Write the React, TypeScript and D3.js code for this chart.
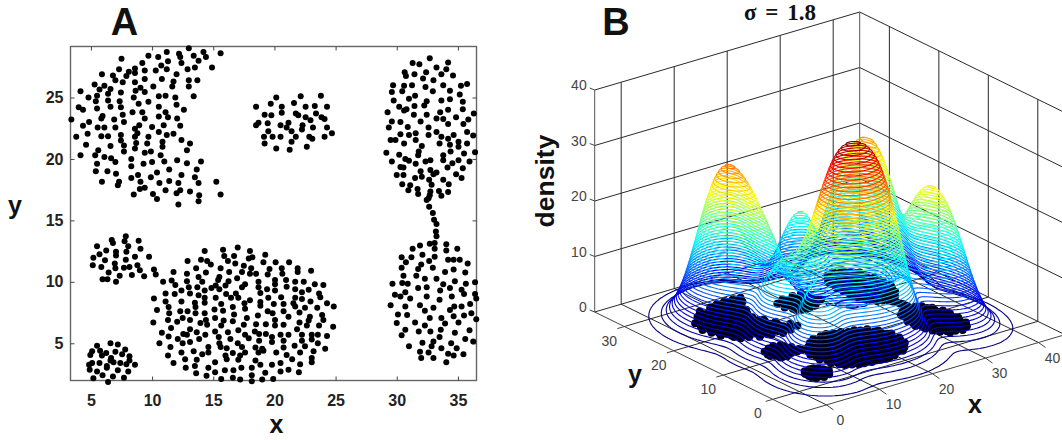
import React, { useEffect, useRef } from 'react';
import * as d3 from 'd3';

const upperLeft = [[13,29],[14.2,28.7],[15.6,28.6],[12.2,28.55],[11.2,28.7],[9.7,28.4],[10.5,28.3],[12.3,28.3],[13.4,28.4],[7.5,28.15],[14.4,28.3],[13.8,28],[11.3,27.95],[12.4,27.8],[9.2,27.8],[10.75,27.6],[14.9,27.45],[13.5,27.45],[12.9,27.3],[8.6,27.35],[7.3,27.3],[11.2,27.3],[10.3,27.2],[9.4,27.2],[8.1,27.1],[8.6,27],[5.9,26.9],[6.8,26.8],[7.9,26.75],[12,26.9],[7,26.4],[7.6,26.25],[9.4,26.5],[10.8,26.5],[13,26.4],[13.7,26.4],[11.75,26.3],[8.6,26.25],[11.65,25.9],[5.3,26.05],[6.1,25.95],[13,25.9],[10.1,25.9],[5.7,25.65],[6.6,25.7],[9.05,25.8],[8.65,25.55],[6.4,25.3],[4.15,25.5],[7.45,25.4],[9.4,25.45],[4.8,25],[5.5,25.15],[13.4,25.1],[10.55,25.1],[11.1,25.15],[11.9,25],[8.5,25],[5.4,24.7],[6.4,24.75],[7.35,24.7],[9.7,24.65],[8.9,24.5],[12,24.4],[6.6,24.25],[10.55,24.25],[4,24.2],[4.35,24],[5.5,24.1],[7.45,24.2],[12.6,24],[7.6,23.6],[8.4,23.8],[9.2,23.8],[11.1,23.8],[10.55,23.45],[11.3,23.4],[9.4,23.3],[5.95,23.5],[5.85,23.3],[12.05,23.3],[3.4,23.2],[6.9,23.2],[4.85,23],[7.7,23],[4.35,22.7],[8.95,22.75],[10,22.6],[10.95,22.75],[12.3,22.7],[5.55,22.55],[6.1,22.55],[7,22.55],[8.6,22.45],[10.55,22.2],[4.73,22.05],[8.8,22.1],[3.8,21.8],[5.85,21.85],[6.4,21.85],[7.45,21.95],[8.6,21.8],[9.7,21.8],[11.75,22.05],[11.2,21.95],[7.45,21.5],[12.4,21.55],[7.7,21.1],[10.85,21.4],[9.6,21.25],[8.7,21.3],[4.6,21.15],[6.6,21.05],[13.1,21.25],[8.6,20.85],[10.85,21],[12.85,20.7],[5.6,20.7],[7.7,20.6],[9.4,20.5],[9.9,20.6],[4.15,20.3],[5.35,20.3],[10.7,20.3],[6.1,20.15],[6.65,20.05],[8.3,20],[14,19.8],[7,19.75],[10,19.75],[11,19.8],[12.05,19.9],[12.85,19.65],[5.5,19.6],[9.3,19.6],[8.3,19.4],[13.65,19.15],[5.4,19],[6.35,19],[11.4,19.15],[7.05,18.8],[10.4,18.9],[8.85,18.7],[12.4,18.7],[8.3,18.45],[9.9,18.5],[13.5,18.5],[5.9,18.15],[7.3,18.15],[9.05,18.15],[10.6,18.05],[11.4,18.2],[12.15,18.05],[13.8,18.05],[15.25,18.15],[7.2,17.85],[9,17.55],[9.4,17.65],[11.1,17.45],[13.1,17.35],[12.3,17.45],[12,17.2],[8.5,17.1],[10.07,17.15],[13.85,17.05],[15.6,17.1],[10.4,16.75],[13.8,16.55],[12.15,16.3]];

const upperMiddle = [[23.8,25.15],[22.15,25.1],[20.15,25],[21.6,24.55],[19.7,24.5],[18.5,24.25],[20.6,24.25],[22.55,24.25],[23.3,24.3],[24.3,24.25],[20.6,23.75],[21.75,23.7],[19.2,23.6],[19.75,23.55],[21.95,23.55],[23.4,23.7],[22.55,23.4],[23.85,23.4],[24.1,23.25],[22.95,23.15],[21.15,22.95],[18.7,22.95],[18.5,22.75],[19.45,22.9],[20.5,22.75],[22.3,22.75],[21,22.55],[23.15,22.55],[24.3,22.55],[21.4,22.25],[22.25,22.4],[19.5,22.25],[24.7,22.1],[19.15,21.8],[19.85,21.8],[20.5,21.8],[21.75,21.8],[22.85,21.8],[24.1,21.8],[23.1,21.65],[21.4,21.4],[19.2,21.25],[20.15,20.85],[21.25,20.75],[22.65,21]];

const upperRight = [[32.7,28.2],[31.3,27.8],[31.85,27.7],[34.2,27.85],[33.25,27.45],[34.05,27.3],[30.65,27.05],[30.75,26.75],[31.45,26.9],[32.4,27.05],[33.65,26.9],[34.6,26.8],[32.15,26.55],[33,26.4],[29.7,26],[30.6,25.95],[31.25,26],[32.35,25.85],[33.8,26],[35.25,25.95],[35.75,26.1],[29.6,25.45],[30.45,25.5],[32.95,25.5],[34.35,25.55],[35.15,25.25],[31.5,25.15],[31,24.9],[29.75,24.75],[33.65,24.75],[34.35,24.85],[35.4,24.65],[32.45,24.7],[32.25,24.35],[30.2,24.25],[31.45,24.3],[30.8,24.05],[30.6,23.95],[35.4,24.05],[29.25,23.8],[34.2,24],[33.55,23.8],[36.3,23.7],[31.4,23.6],[32.45,23.6],[33.25,23.3],[33.8,23.25],[34.85,23.4],[35.85,23.2],[35.45,22.85],[29.6,23.05],[30.3,23],[31.95,23.05],[34.2,22.85],[29.35,22.55],[30.9,22.6],[32.6,22.55],[31.55,22.1],[30.3,22],[31,21.95],[32.6,21.95],[33.25,22.2],[33.65,21.8],[35.75,22.2],[34.65,21.95],[36.25,21.9],[29.5,21.55],[29.9,21.55],[31.55,21.55],[34.2,21.65],[33.5,21.25],[34.35,21.15],[35.05,21.4],[35.75,21.25],[35.05,21],[30.6,21.25],[32.05,21.05],[34.4,20.6],[31.8,20.6],[33.8,20.3],[35.5,20.45],[36.4,20.55],[29.15,20.5],[30.2,20.35],[30.7,20],[31,19.85],[31.75,20.3],[35.05,19.9],[32.35,19.8],[32.75,19.9],[33.8,19.9],[35.95,19.8],[29.6,19.8],[31.55,19.6],[34.55,19.65],[30.3,19.35],[30.55,19.3],[34.15,19.3],[35.4,19.25],[31.95,19],[32.75,19.1],[33,18.75],[33.25,18.9],[30,18.7],[30.55,18.7],[34.85,18.75],[32.05,18.55],[31.5,18.45],[35.3,18.45],[32.65,18.3],[33.8,18.3],[32.85,17.9],[34.25,17.95],[30.45,17.95],[31.1,17.85],[30.95,17.45],[31.7,17.55],[31.75,17.15],[32.75,17.35],[32.7,17.05],[33.45,17.4],[34.2,17.3],[33.65,17],[32.6,16.8],[32.45,16.65]];

// the thin chain joining the two clusters on the right
const bridge = [[32.65,16.1],[32.95,15.6],[33.05,15.05],[33.25,14.7],[33.2,14.1],[33.25,13.7],[33.1,13.15],[33.1,12.7]];

const lowerRight = [[31.9,12.95],[31.3,12.7],[32.7,13.1],[34.05,13.05],[34.05,12.55],[34.95,12.7],[30.4,12],[31.2,12],[32.1,12.2],[33.1,12.05],[30.75,11.6],[34.2,11.8],[34.65,11.8],[35.15,11.8],[35.8,11.5],[32.65,11.7],[32,11.4],[30.4,11.15],[31.75,11.05],[32.95,11.15],[34.65,11],[33.95,10.8],[35.6,10.75],[30.55,10.5],[31.6,10.5],[32.3,10.25],[33.25,10.25],[34.75,10.05],[30.45,9.9],[30.9,9.85],[29.65,9.85],[33.8,9.8],[35.65,9.85],[36.4,9.97],[31.75,9.5],[32.45,9.55],[34.35,9.5],[35.3,9.35],[30.7,9.15],[33.55,9.3],[35.5,9],[36.4,9],[29.85,8.95],[30.3,8.8],[31.1,8.65],[32.45,8.8],[34.5,8.8],[33.5,8.55],[36.5,8.65],[36,8.2],[29.5,8.1],[31.9,8.1],[30.7,8],[33,7.9],[34.35,7.7],[34.7,8],[35.3,8],[32.3,7.65],[36.1,7.45],[30.1,7.35],[30.85,7.3],[34.65,7.2],[35.5,7.25],[32.7,7.05],[33.65,7.05],[36.5,6.95],[30,6.65],[31.5,6.7],[33.95,6.6],[35.05,6.7],[32.3,6.45],[30.7,6.1],[31.8,5.95],[32.75,5.95],[33.6,6.1],[35.95,6.05],[34.75,5.85],[30.4,5.65],[33.5,5.5],[35.6,5.35],[32.1,5.05],[36.25,5.15],[33,5.15],[31,4.75],[34.45,5],[32.85,4.75],[33.65,4.6],[34.9,4.6],[31.9,4.3],[32.6,4.25],[34.2,4.15],[35.45,4.1],[34.65,4],[32,3.8],[33,3.8],[34.05,3.45]];

const middleLeft = [[6.7,13.4],[6.8,13.15],[7.85,13.7],[7.75,13.3],[8.9,13.35],[8.05,12.9],[9.05,12.7],[5.5,12.9],[6.25,12.55],[5.7,12.25],[7.05,12.45],[7.05,12.15],[7.9,12.45],[5.2,11.95],[6.15,11.75],[8.6,12.05],[9.75,12.05],[7.85,11.8],[6.95,11.5],[5.15,11.35],[5.85,11.2],[8.8,11.35],[7,11.1],[7.7,11.15],[8.15,11.2],[9,10.95],[6.45,10.75],[5.95,10.2],[6.35,10.2],[7.35,10.5],[8.35,10.55],[9.35,10.45],[7.05,10]];

const lowerLeft = [[5.5,4.8],[6.6,5],[7.2,4.9],[7.8,4.5],[5.1,4.35],[4.95,4.05],[5.75,4.4],[6.25,4.2],[7,4.3],[7.55,4.1],[8.15,3.95],[6.65,3.8],[5.9,4],[8.15,3.6],[5.1,3.4],[5.7,3.4],[6.85,3.45],[6.3,3.15],[7.4,3.4],[7.9,3.3],[8.6,3.25],[4.85,3.25],[4.9,2.85],[5.5,2.7],[6.3,3],[7.2,2.8],[8.05,2.7],[5.95,2.4],[6.8,2.3],[7.7,2.2],[5.2,2.15],[6.4,1.85],[6.6,3.6]];

const bigCluster = [[17,12.8],[15.8,12.6],[14.3,12.5],[18,12.5],[19.25,12.2],[15.9,12.1],[16.7,12.1],[18.2,12],[17.9,11.9],[14,11.8],[12.9,11.7],[14.5,11.7],[16.8,11.5],[16.2,11.7],[19.1,11.6],[20.1,11.6],[21.2,11.6],[14.8,11.4],[13.6,11.1],[15.6,11.1],[17.5,11.3],[18.1,11.1],[19.6,11.05],[20.6,11.1],[21.9,11.1],[23,10.9],[10.15,11],[11.75,10.8],[10.3,10.6],[14.4,10.75],[12.85,10.65],[16.3,10.8],[17.35,10.8],[18,10.65],[18.5,10.65],[19.45,10.6],[20.65,10.65],[21.9,10.8],[13.8,10.4],[15.5,10.4],[15.4,10.15],[16.95,10.3],[10.9,10],[11.6,10.1],[12.85,10.05],[14.1,10],[16.25,10.05],[17.6,9.8],[18.7,10],[20.05,10.15],[20.95,10.15],[21.7,10],[22.4,10],[23.3,9.8],[24,9.75],[11.9,9.75],[13,9.55],[13.7,9.55],[15.2,9.7],[16,9.7],[17.35,9.55],[18.7,9.55],[20.05,9.8],[21,9.6],[19.4,9.4],[21.7,9.4],[22.8,9.35],[12.4,9.3],[11.1,9.05],[11.85,9],[13.1,9.05],[14.3,9.3],[14.85,9.5],[15.5,9.4],[16.85,9.05],[18.85,9.1],[20.05,9.3],[22.25,9.15],[23.65,9.05],[13.8,8.9],[14.3,8.7],[15.2,8.7],[16.05,9],[16.45,8.7],[17.05,8.7],[18,8.5],[19.5,8.7],[20.55,8.75],[21.7,8.7],[23.75,8.75],[10.15,8.65],[11.1,8.4],[12.4,8.4],[13.5,8.3],[14.3,8.3],[17.55,8.25],[18.85,8.35],[19.95,8.2],[21.55,8.25],[22.25,8.6],[22.95,8.4],[24.3,8.25],[24.85,8],[11.35,7.95],[12.3,7.6],[12.9,7.6],[10.4,7.7],[13.55,7.95],[15.65,8.2],[16.6,7.95],[15.1,7.75],[15.8,7.65],[17.6,7.8],[18.85,8.05],[20.75,8.2],[21.7,8],[22.5,7.9],[23.5,7.9],[11.4,7.45],[13.55,7.45],[14.3,7.45],[16.7,7.35],[17.75,7.05],[18.65,7.25],[19.45,7.6],[19.85,7.45],[20.75,7.6],[22.05,7.5],[23.9,7.3],[22.9,7.15],[15.15,7.05],[15.85,6.85],[11.3,6.9],[12.05,6.75],[10.1,6.7],[12.5,7.05],[13.1,6.9],[13.95,6.65],[14.4,6.9],[16.6,6.8],[20.05,6.9],[21.15,7.15],[22.8,6.85],[24,6.9],[22.05,6.7],[14.5,6.5],[15.65,6.45],[17.5,6.5],[18.5,6.55],[19.3,6.55],[20.05,6.45],[20.75,6.5],[22.65,6.45],[23.65,6.45],[24.8,6.35],[11.55,6.25],[13.1,6.15],[17.05,6.05],[21.85,6.15],[10.8,5.85],[15.15,5.95],[13.65,5.9],[16.2,5.9],[18.4,5.95],[18.75,5.75],[19.3,5.75],[11.35,5.55],[12.55,5.75],[12.85,5.7],[14.35,5.7],[17.6,5.7],[21.15,5.7],[20.5,5.7],[22.25,5.7],[23.05,5.7],[23.55,5.7],[24.3,5.6],[12.1,5.35],[13.85,5.35],[15.45,5.5],[16.4,5.35],[17.9,5.4],[19.8,5.5],[22.25,5.2],[23.05,5.3],[13.1,5.1],[10.6,5],[12.5,5],[15.5,5],[18.75,5.2],[19.8,5.1],[20.75,5.2],[23.55,5],[11.5,4.7],[14.6,4.7],[15.6,4.7],[17,5],[17.35,4.7],[18.45,4.65],[19,4.55],[21.65,4.8],[22.5,4.75],[12.4,4.25],[13.4,4.35],[14.6,4.25],[16.1,4.6],[16,4],[17.6,4.25],[19.1,4.4],[20.15,4.25],[20.75,4.65],[23.2,4.35],[24.15,4.55],[11.3,4],[14.1,4.1],[16.6,4.2],[17.2,4],[18.7,4.25],[21,4.05],[22.1,4.25],[23.05,3.8],[12.7,3.7],[13.65,3.65],[16.1,3.7],[17.05,3.65],[21.45,3.7],[23.05,3.45],[11.75,3.4],[13.5,3.15],[15.15,3.45],[18.45,3.6],[18.85,3.25],[19.8,3.25],[20.5,3.4],[22.1,3.3],[12.75,3],[14.6,3],[17.3,3],[18.15,3],[15.95,2.8],[16.65,2.8],[21.15,2.85],[22,2.65],[13.6,2.55],[14.45,2.35],[15.15,2.65],[18.15,2.4],[19.25,2.6],[20.5,2.7],[15.65,2.1],[16.6,2.2],[17.2,2.05],[19,2.05],[19.9,2.1],[18.15,1.9]];

const points = [...upperLeft, ...upperMiddle, ...upperRight, ...bridge, ...lowerRight, ...middleLeft, ...lowerLeft, ...bigCluster];

const xTicksA = [5, 10, 15, 20, 25, 30, 35];
const yTicksA = [5, 10, 15, 20, 25];
const xTicksB = [0, 10, 20, 30, 40];
const yTicksB = [0, 10, 20, 30];
const zTicksB = [0, 10, 20, 30, 40];

// 1.8 in the title gives humps too narrow for this view, 2.5 fits the picture
const kernelWidth = 2.5;
const peakDensity = 37;

const sans = 'Liberation Sans, Arial, sans-serif';

export default function App() {
  const svgRef = useRef<SVGSVGElement>(null);

  useEffect(() => {
    const svg = d3.select(svgRef.current);
    svg.selectAll('*').remove();

    // ---- panel A
    const x = d3.scaleLinear().domain([3.33, 36.52]).range([70.5, 476.5]);
    const y = d3.scaleLinear().domain([1.97, 29.15]).range([380.5, 46.5]);
    const a = svg.append('g');

    a.append('rect').attr('x', 70.5).attr('y', 46.5).attr('width', 406).attr('height', 334)
      .attr('fill', 'none').attr('stroke', '#666').attr('stroke-width', 1.4);

    const xAxis = a.append('g').attr('transform', 'translate(0,380.5)')
      .call(d3.axisBottom(x).tickValues(xTicksA).tickSize(-4).tickPadding(14).tickFormat(d3.format('d')));
    const yAxis = a.append('g').attr('transform', 'translate(70.5,0)')
      .call(d3.axisLeft(y).tickValues(yTicksA).tickSize(-4).tickPadding(7).tickFormat(d3.format('d')));
    a.append('g').attr('transform', 'translate(0,46.5)')
      .call(d3.axisBottom(x).tickValues(xTicksA).tickSize(4).tickFormat(() => ''));
    a.append('g').attr('transform', 'translate(476.5,0)')
      .call(d3.axisLeft(y).tickValues(yTicksA).tickSize(4).tickFormat(() => ''));
    a.selectAll('.domain').remove();
    a.selectAll('.tick line').attr('stroke', '#444');
    for (const ax of [xAxis, yAxis]) {
      ax.selectAll('text').attr('font-family', sans).attr('font-size', 16).attr('font-weight', 'bold').attr('fill', '#222');
    }

    a.append('g').selectAll('circle').data(points).join('circle')
      .attr('cx', (d) => x(d[0])).attr('cy', (d) => y(d[1])).attr('r', 3).attr('fill', '#000');

    const label = (t: string, px: number, py: number, size: number, extra = '') =>
      svg.append('text').text(t).attr('x', px).attr('y', py).attr('font-family', sans)
        .attr('font-size', size).attr('font-weight', 'bold').attr('fill', '#111')
        .attr('text-anchor', 'middle').attr('transform', extra);

    label('A', 124.5, 34.5, 38);
    label('B', 616, 34.5, 38);
    label('x', 276.5, 433, 25);
    label('y', 15, 214, 25);
    label('y', 635, 383, 25);
    label('x', 975, 413, 25);
    label('density', 0, 0, 26.5, 'translate(554,181) rotate(-90)');

    svg.append('text').text('σ = 1.8').attr('x', 780).attr('y', 20)
      .attr('font-family', 'Liberation Serif, serif').attr('font-weight', 'bold')
      .attr('font-size', 23).attr('word-spacing', 3).attr('text-anchor', 'middle').attr('fill', '#111');

    // ---- panel B, an oblique view of the box
    const xRange: [number, number] = [-5, 45];
    const yRange: [number, number] = [36, -5.5];
    const xToH = d3.scaleLinear().domain(xRange).range([0, 265]);
    const xToV = d3.scaleLinear().domain(xRange).range([0, -78]);
    const yToH = d3.scaleLinear().domain(yRange).range([0, 205.3]);
    const yToV = d3.scaleLinear().domain(yRange).range([0, 100.7]);
    const zToV = d3.scaleLinear().domain([0, 40]).range([0, 222]);
    const project = (px: number, py: number, pz = 0): [number, number] => [
      594.7 + xToH(px) + yToH(py),
      312 + xToV(px) + yToV(py) - zToV(pz),
    ];

    const b = svg.append('g');
    const line = d3.line();
    const seg = (p: [number, number, number], q: [number, number, number], colour = '#2a2a2a') =>
      b.append('path').attr('d', line([project(p[0], p[1], p[2]), project(q[0], q[1], q[2])]))
        .attr('fill', 'none').attr('stroke', colour).attr('stroke-width', 1);

    const [x0, x1] = xRange;
    const [yBack, yFront] = yRange;
    for (const t of xTicksB) {
      seg([t, yBack, 0], [t, yBack, 40]);
      seg([t, yBack, 0], [t, yFront, 0]);
    }
    for (const t of yTicksB) {
      seg([x1, t, 0], [x1, t, 40]);
      seg([x0, t, 0], [x1, t, 0]);
    }
    for (const t of zTicksB) {
      seg([x0, yBack, t], [x1, yBack, t]);
      seg([x1, yBack, t], [x1, yFront, t]);
    }
    seg([x0, yBack, 0], [x0, yBack, 40], '#555');
    seg([x1, yBack, 0], [x1, yBack, 40], '#555');
    seg([x0, yBack, 0], [x0, yFront, 0], '#444');
    seg([x0, yFront, 0], [x1, yFront, 0], '#444');

    const tickText = (t: number, px: number, py: number, anchor = 'middle') =>
      b.append('text').text(t).attr('x', px).attr('y', py).attr('text-anchor', anchor)
        .attr('dominant-baseline', 'central').attr('font-family', sans)
        .attr('font-size', 14).attr('fill', '#444');

    for (const t of xTicksB) {
      const [h, v] = project(t, yFront, 0);
      b.append('path').attr('d', line([[h, v], [h + 7, v + 5]])).attr('stroke', '#444');
      tickText(t, h + 14, v + 15);
    }
    for (const t of yTicksB) {
      const [h, v] = project(x0, t, 0);
      b.append('path').attr('d', line([[h, v], [h - 7, v + 2]])).attr('stroke', '#444');
      tickText(t, h - 15, v + 14);
    }
    for (const t of zTicksB) {
      const [h, v] = project(x0, yBack, t);
      b.append('path').attr('d', line([[h, v], [h - 5, v - 2]])).attr('stroke', '#444');
      tickText(t, h - 8, v - 5, 'end');
    }

    // the points themselves lie on the floor of the box
    b.append('g').selectAll('circle').data(points).join('circle')
      .attr('cx', (d) => project(d[0], d[1])[0]).attr('cy', (d) => project(d[0], d[1])[1])
      .attr('r', 4).attr('fill', '#00001a');

    // gaussian density of the same points
    const step = 0.5;
    const nx = Math.round((x1 - x0) / step) + 1;
    const ny = Math.round((yBack - yFront) / step) + 1;
    const values = new Float64Array(nx * ny);
    for (const [px, py] of points) {
      for (let j = 0; j < ny; j++) {
        for (let i = 0; i < nx; i++) {
          const dx = x0 + i * step - px;
          const dy = yFront + j * step - py;
          values[i + j * nx] += Math.exp(-(dx * dx + dy * dy) / (2 * kernelWidth * kernelWidth));
        }
      }
    }
    const scale = peakDensity / (d3.max(values) as number);
    const heights = Array.from(values, (v) => v * scale);
    const levels = d3.range(0.12, peakDensity, 0.62);
    const jet = d3.scaleLinear<string>()
      .domain([0, 0.125, 0.375, 0.625, 0.875, 1].map((k) => k * peakDensity))
      .range(['#000080', '#0000ff', '#00ffff', '#ffff00', '#ff0000', '#800000']);

    const contours = d3.contours().size([nx, ny]).thresholds(levels)(heights);
    const surface = b.append('g').attr('fill', 'none').attr('stroke-width', 1.1);
    for (const c of contours) {
      const rings = c.coordinates.flat().map((ring) =>
        line(ring.map(([cx, cy]) => project(x0 + (cx - 0.5) * step, yFront + (cy - 0.5) * step, c.value))));
      surface.append('path').attr('d', rings.join('')).attr('stroke', jet(c.value));
    }
  }, []);

  return (
    <svg ref={svgRef} width={1062} height={440}
      style={{ position: 'absolute', left: 0, top: 0, background: '#fff' }} />
  );
}
